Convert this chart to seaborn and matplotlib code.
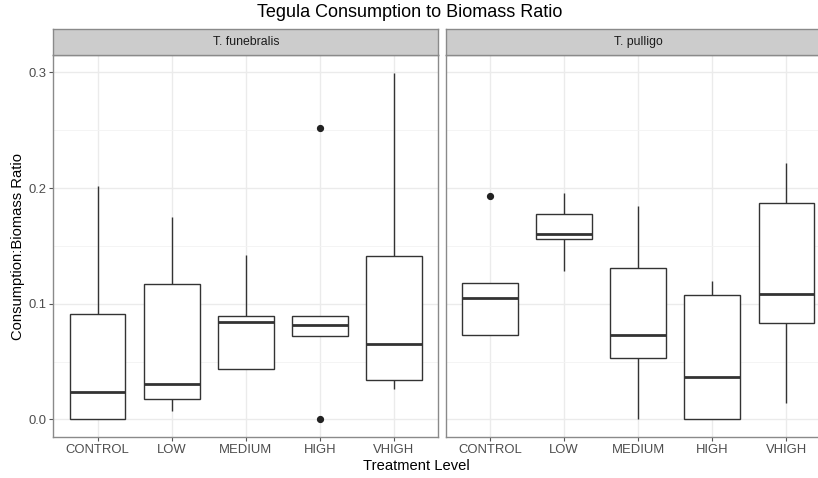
import numpy as np
import pandas as pd
import matplotlib
matplotlib.use("Agg")
import matplotlib.pyplot as plt
import seaborn as sns

# ---- data (five-number summaries; extremes include outliers) ----
levels = ["CONTROL", "LOW", "MEDIUM", "HIGH", "VHIGH"]
species = ["T. funebralis", "T. pulligo"]

fun_min = [0.0,    0.0072, 0.0432, 0.0,    0.0262]
fun_q1  = [0.0,    0.0173, 0.0432, 0.0720, 0.0340]
fun_med = [0.0239, 0.0305, 0.0844, 0.0813, 0.0648]
fun_q3  = [0.0914, 0.1173, 0.0893, 0.0893, 0.1409]
fun_max = [0.2017, 0.1746, 0.1421, 0.2522, 0.2995]

pul_min = [0.0726, 0.1285, 0.0,    0.0,    0.0138]
pul_q1  = [0.0726, 0.1559, 0.0533, 0.0,    0.0833]
pul_med = [0.1049, 0.1600, 0.0732, 0.0369, 0.1081]
pul_q3  = [0.1176, 0.1772, 0.1311, 0.1075, 0.1867]
pul_max = [0.1928, 0.1954, 0.1847, 0.1196, 0.2213]

title = "Tegula Consumption to Biomass Ratio"
xlabel = "Treatment Level"
ylabel = "Consumption:Biomass Ratio"
yticks = [0.0, 0.1, 0.2, 0.3]
yticklabels = ["0.0", "0.1", "0.2", "0.3"]

rows = []
for sp, arrs in zip(species, [(fun_min, fun_q1, fun_med, fun_q3, fun_max),
                              (pul_min, pul_q1, pul_med, pul_q3, pul_max)]):
    for i, lvl in enumerate(levels):
        for a in arrs:
            rows.append({"species": sp, "level": lvl, "ratio": a[i]})
df = pd.DataFrame(rows)

# ---- style ----
sns.set_theme(style="white")
plt.rcParams["font.family"] = ["Liberation Sans", "DejaVu Sans"]

W, H = 818, 478
fig = plt.figure(figsize=(W / 100, H / 100), dpi=100)

def fx(px):
    return px / W

def fy(py):
    return 1 - py / H

panel_left = [53.3, 445.7]
panel_w = 385.0
panel_top, panel_bot = 55.0, 436.7
strip_top = 29.3

for k, sp in enumerate(species):
    ax = fig.add_axes([fx(panel_left[k]), fy(panel_bot), panel_w / W,
                       (panel_bot - panel_top) / H])
    sub = df[df["species"] == sp]
    sns.boxplot(data=sub, x="level", y="ratio", order=levels, ax=ax,
                width=0.75, color="white", linecolor="#333333", linewidth=1.0,
                whis=1.5, saturation=1, showcaps=False,
                medianprops=dict(linewidth=2.0, color="#333333"),
                flierprops=dict(marker="o", markersize=4.2,
                                markerfacecolor="#222222",
                                markeredgecolor="#222222"))
    ax.set_xlim(-0.6, 4.6)
    ax.set_ylim(-0.015, 0.315)
    ax.set_facecolor("white")
    ax.set_yticks(yticks)
    ax.set_yticks([0.05, 0.15, 0.25], minor=True)
    ax.grid(True, which="major", color="#ebebeb", linewidth=1.0)
    ax.grid(True, which="minor", axis="y", color="#f3f3f3", linewidth=0.6)
    ax.set_axisbelow(True)
    for s in ax.spines.values():
        s.set_color("#8a8a8a")
        s.set_linewidth(1.0)
    ax.tick_params(axis="both", which="major", length=3.2, width=0.8,
                   color="#555555", labelcolor="#4d4d4d", labelsize=9.4, pad=2,
                   bottom=True, left=True)
    ax.tick_params(axis="y", which="minor", length=0)
    ax.set_xlabel("")
    ax.set_ylabel("")
    if k == 0:
        ax.set_yticklabels(yticklabels)
    else:
        ax.tick_params(axis="y", labelleft=False, left=False)

    # strip
    sax = fig.add_axes([fx(panel_left[k]), fy(panel_top), panel_w / W,
                        (panel_top - strip_top) / H])
    sax.set_facecolor("#cccccc")
    sax.set_xticks([])
    sax.set_yticks([])
    for s in sax.spines.values():
        s.set_color("#8a8a8a")
        s.set_linewidth(1.0)
    sax.text(0.5, 0.5, sp, ha="center", va="center", fontsize=8.8,
             color="#1a1a1a", transform=sax.transAxes)

fig.text(0.5006, fy(12.5), title, ha="center", va="center", fontsize=13,
         color="black")
fig.text(fx(416), fy(466), xlabel, ha="center", va="center", fontsize=10.6,
         color="black")
fig.text(fx(18), fy(246), ylabel, ha="center", va="center", fontsize=10.6,
         rotation=90, color="black")

fig.savefig("out.png", dpi=100)
